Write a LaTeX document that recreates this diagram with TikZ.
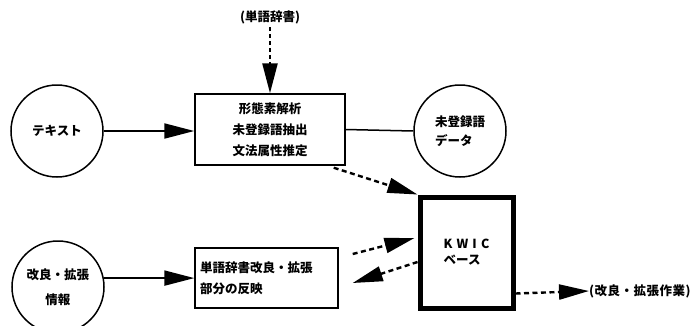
\documentclass[tikz,border=0pt]{standalone}
\usepackage{fontspec}
\usetikzlibrary{arrows.meta,calc}
\newfontfamily\jp{Noto Sans CJK JP}
\tikzset{
  every node/.style={font=\jp\bfseries\fontsize{12.5}{21}\selectfont},
  circ/.style={draw, line width=1.5pt, circle, minimum size=92pt, inner sep=0pt, align=center},
  box/.style={draw, line width=1.4pt, inner sep=0pt, align=left},
  kwicbox/.style={draw, line width=5pt, inner sep=0pt, align=left},
  solidarrow/.style={line width=2pt, -{Triangle[length=30pt,width=15pt]}},
  dasharrow/.style={line width=2.4pt, dash pattern=on 5pt off 3.5pt, -{Triangle[length=30pt,width=15pt]}},
  plainline/.style={line width=1.5pt}
}
\begin{document}
\begin{tikzpicture}[x=1pt,y=-1pt]
\useasboundingbox (0,0) rectangle (699,325);
\node (dict) at (270,17) {(単語辞書)};
\node[box, minimum width=150pt, minimum height=71pt, align=center] (morph) at (270,129.5) {形態素解析\\未登録語抽出\\文法属性推定};
\node[circ] (text) at (57,131) {テキスト};
\node[circ, align=left, font=\jp\bfseries\fontsize{12.5}{19}\selectfont] (unreg) at (460,131) {未登録語\\データ};
\node[kwicbox, minimum width=93pt, minimum height=111pt, font=\jp\bfseries\fontsize{12.5}{16}\selectfont] (kwic) at (466.5,252.5) {K\,\,W\,\,I\,\,C\\ベース};
\node[box, minimum width=143pt, minimum height=60pt, text width=133pt] (refl) at (266.5,278) {単語辞書改良・拡張\\部分の反映};
\node[circ, font=\jp\bfseries\fontsize{12.5}{25}\selectfont] (info) at (58,287) {改良・拡張\\情報};
\node[anchor=west, inner sep=0pt, font=\jp\bfseries\fontsize{12.5}{16}\selectfont\addfontfeature{LetterSpace=4}] (work) at (589,291) {(改良・拡張作業)};

\draw[dasharrow, dash pattern=on 4pt off 3pt] (dict.south) -- (morph.north);
\draw[solidarrow] (text.east) -- (text.east -| morph.west);
\draw[plainline] (morph.east) -- (unreg.west);
\draw[dasharrow] ($(morph.south east)+(-12,2)$) -- (kwic.north west);
\draw[solidarrow] (info.11) -- (info.11 -| refl.west);
\draw[dasharrow] ($(refl.east)+(14,-24)$) -- ($(kwic.west)+(-3,-14.5)$);
\draw[dasharrow] ($(kwic.west)+(0,9.5)$) -- ($(refl.east)+(14,5)$);
\draw[dasharrow] ($(kwic.south east)+(0,-17)$) -- (work.west);
\end{tikzpicture}
\end{document}
